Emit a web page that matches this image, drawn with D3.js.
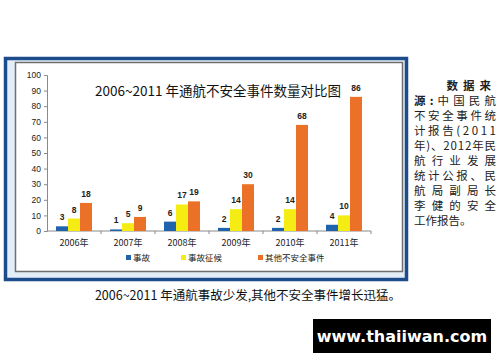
<!DOCTYPE html>
<html>
<head>
<meta charset="utf-8">
<script src="https://cdn.jsdelivr.net/npm/d3@7"></script>
<style>
  body { margin: 0; background: #fff; }
  svg { display: block; }
</style>
</head>
<body>
<div class="chart"></div>
<script>
// data
var years = ["2006年", "2007年", "2008年", "2009年", "2010年", "2011年"];
var accidents = [3, 1, 6, 2, 2, 4];
var incidents = [8, 5, 17, 14, 14, 10];
var otherEvents = [18, 9, 19, 30, 68, 86];
var seriesNames = ["事故", "事故征候", "其他不安全事件"];
var yTicks = [0, 10, 20, 30, 40, 50, 60, 70, 80, 90, 100];
var sourceLines = ["源:中国民航", "不安全事件统", "计报告(2011", "年)、2012年民", "航行业发展", "统计公报、民", "航局副局长", "李健的安全"];

var colors = ["#1f63ad", "#f5ec14", "#ec7128"];
var series = [accidents, incidents, otherEvents];

var svgWidth = 500, svgHeight = 362;
var svg = d3.select(".chart").append("svg")
  .attr("width", svgWidth)
  .attr("height", svgHeight);

svg.append("rect").attr("width", svgWidth).attr("height", svgHeight).attr("fill", "#fff");

// frame: blue outer border, pale gap, grey inner border
svg.append("rect")
  .attr("x", 5.5).attr("y", 58.5).attr("width", 401).attr("height", 221)
  .attr("fill", "#e4eef8").attr("stroke", "#1c4c8c").attr("stroke-width", 3.5);
svg.append("rect")
  .attr("x", 15.5).attr("y", 62.5).attr("width", 387).attr("height", 209)
  .attr("fill", "#fff").attr("stroke", "#6f6f6f").attr("stroke-width", 1.5);

// scales
var x = d3.scaleBand().domain(years).range([47, 371]);
var y = d3.scaleLinear().domain([0, 100]).range([231, 75]);
var barW = 12;

// y axis
var yAxis = svg.append("g")
  .attr("transform", "translate(47,0)")
  .call(d3.axisLeft(y).tickValues(yTicks).tickSize(3).tickPadding(3));
yAxis.selectAll("path, line").attr("stroke", "#8a8a8a");
yAxis.selectAll("text")
  .attr("font-family", "Liberation Sans, Arial, sans-serif")
  .attr("font-size", 8.5).attr("fill", "#222");

// x axis, ticks on category boundaries
var xAxis = svg.append("g").attr("transform", "translate(0,231)");
xAxis.append("line").attr("x1", 47).attr("x2", 371).attr("stroke", "#8a8a8a");
xAxis.selectAll("line.tick")
  .data(years.slice(1).concat(["end"]))
  .enter().append("line")
  .attr("class", "tick")
  .attr("x1", (d, i) => 47 + x.step() * (i + 1))
  .attr("x2", (d, i) => 47 + x.step() * (i + 1))
  .attr("y1", 0).attr("y2", 3)
  .attr("stroke", "#8a8a8a");
xAxis.selectAll("text")
  .data(years)
  .enter().append("text")
  .attr("x", d => x(d) + x.bandwidth() / 2)
  .attr("y", 15)
  .attr("text-anchor", "middle")
  .attr("font-family", "Noto Sans CJK SC, sans-serif")
  .attr("font-size", 9).attr("fill", "#222")
  .text(d => d);

// bars + value labels
series.forEach(function(vals, s) {
  var g = svg.append("g");
  g.selectAll("rect")
    .data(vals)
    .enter().append("rect")
    .attr("x", (d, i) => x(years[i]) + x.bandwidth() / 2 - 1.5 * barW + s * barW)
    .attr("y", d => y(d))
    .attr("width", barW)
    .attr("height", d => y(0) - y(d))
    .attr("fill", colors[s]);
  g.selectAll("text")
    .data(vals)
    .enter().append("text")
    .attr("x", (d, i) => x(years[i]) + x.bandwidth() / 2 - 1.5 * barW + s * barW + barW / 2)
    .attr("y", d => y(d) - 6)
    .attr("text-anchor", "middle")
    .attr("font-family", "Liberation Sans, Arial, sans-serif")
    .attr("font-size", 8.5).attr("font-weight", "bold").attr("fill", "#222")
    .text(d => d);
});

// chart title
svg.append("text")
  .attr("x", 218).attr("y", 96)
  .attr("text-anchor", "middle")
  .attr("font-family", "Noto Sans CJK SC, sans-serif")
  .attr("font-size", 13.5).attr("fill", "#111")
  .text("2006~2011 年通航不安全事件数量对比图");

// legend
var legendX = [126, 181, 258];
var legend = svg.append("g");
seriesNames.forEach(function(name, i) {
  legend.append("rect")
    .attr("x", legendX[i]).attr("y", 255).attr("width", 5).attr("height", 5)
    .attr("fill", colors[i]);
  legend.append("text")
    .attr("x", legendX[i] + 7).attr("y", 261)
    .attr("font-family", "Noto Sans CJK SC, sans-serif")
    .attr("font-size", 8.5).attr("fill", "#222")
    .text(name);
});

// side note
var note = svg.append("g")
  .attr("font-family", "Noto Sans CJK SC, sans-serif")
  .attr("font-size", 11.5).attr("fill", "#222");
note.append("text")
  .attr("x", 496).attr("y", 90)
  .attr("text-anchor", "end")
  .attr("font-weight", "bold")
  .attr("letter-spacing", 5)
  .text("数据来");
sourceLines.forEach(function(line, i) {
  var t = note.append("text")
    .attr("x", 414).attr("y", 105 + i * 15)
    .attr("textLength", 82).attr("lengthAdjust", "spacing");
  if (i === 0) {
    t.append("tspan").attr("font-weight", "bold").text("源:");
    t.append("tspan").text(line.slice(2));
  } else {
    t.text(line);
  }
});
note.append("text")
  .attr("x", 414).attr("y", 105 + 8 * 15)
  .text("工作报告。");

// caption
svg.append("text")
  .attr("x", 248).attr("y", 300)
  .attr("text-anchor", "middle")
  .attr("font-family", "Noto Sans CJK SC, sans-serif")
  .attr("font-size", 12.5).attr("fill", "#111")
  .text("2006~2011 年通航事故少发,其他不安全事件增长迅猛。");

// watermark
svg.append("rect")
  .attr("x", 313).attr("y", 319).attr("width", 178).attr("height", 34)
  .attr("fill", "#000");
svg.append("text")
  .attr("x", 402).attr("y", 342)
  .attr("text-anchor", "middle")
  .attr("font-family", "DejaVu Sans, sans-serif")
  .attr("font-size", 16).attr("font-weight", "bold").attr("fill", "#fff")
  .text("www.thaiiwan.com");
</script>
</body>
</html>
